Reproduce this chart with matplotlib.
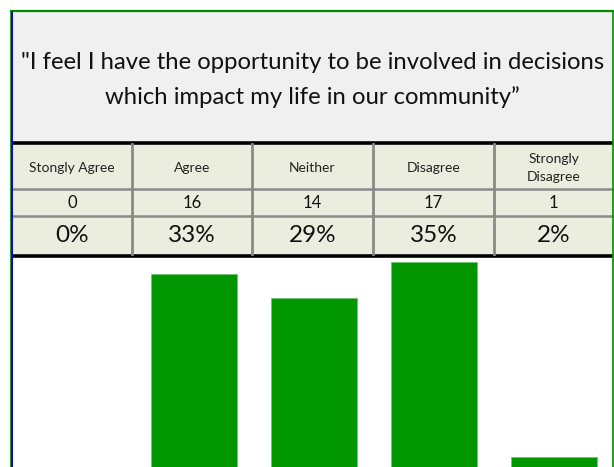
import matplotlib
matplotlib.use("Agg")
import matplotlib.pyplot as plt
from matplotlib.patches import Rectangle

# Survey responses
categories = ["Stongly Agree", "Agree", "Neither", "Disagree", "Strongly\nDisagree"]
counts = [0, 16, 14, 17, 1]
total = sum(counts)
percents = [c / total * 100 for c in counts]
title = '"I feel I have the opportunity to be involved in decisions\nwhich impact my life in our community\u201d'

FONT = ["Lato", "DejaVu Sans"]
W, H = 614, 467
fig = plt.figure(figsize=(W / 100, H / 100), dpi=100)

# Background canvas in pixel coordinates
bg = fig.add_axes([0, 0, 1, 1])
bg.set_xlim(0, W)
bg.set_ylim(H, 0)
bg.axis("off")

left, right = 12, 613
col_edges = [12, 132, 252, 373, 494, 613]

# title panel
bg.add_patch(Rectangle((left, 11), right - left, 131, facecolor="#f0f0f0", edgecolor="none"))
bg.text((left + right) / 2, 80, title, ha="center", va="center", fontsize=17.2,
        family=FONT, color="#111111", linespacing=1.75)

# table panel
bg.add_patch(Rectangle((left, 144), right - left, 110, facecolor="#ebeedf", edgecolor="none"))
bg.plot([left, right], [142.5, 142.5], color="black", lw=2.6, solid_capstyle="butt")
bg.plot([left, right], [255.5, 255.5], color="black", lw=2.6, solid_capstyle="butt")
for y in (189, 216):
    bg.plot([left, right], [y, y], color="#8a8a8a", lw=1.8)
for x in col_edges[1:-1]:
    bg.plot([x, x], [144, 254], color="#8a8a8a", lw=2.0)

for i, cat in enumerate(categories):
    cx = (col_edges[i] + col_edges[i + 1]) / 2
    bg.text(cx, 168, cat, ha="center", va="center", fontsize=10, family=FONT,
            color="#222222", linespacing=1.65)
    bg.text(cx, 203, f"{counts[i]}", ha="center", va="center", fontsize=12,
            family=FONT, color="#111111")
    bg.text(cx, 236, f"{percents[i]:.0f}%", ha="center", va="center", fontsize=17.5,
            family=FONT, color="#111111")

# outer frame
bg.plot([10, 614], [10.5, 10.5], color="#008a00", lw=1.6, solid_capstyle="butt")
bg.plot([10.5, 10.5], [10, H], color="#008a00", lw=1.2, solid_capstyle="butt")
bg.plot([11.7, 11.7], [11, H], color="#0000dd", lw=1.4, solid_capstyle="butt")
bg.plot([613, 613], [10, H], color="#008a00", lw=1.2, solid_capstyle="butt")

# bar chart area
px_per_count = 12.2
base_y = 469
top_y = 257
ax = fig.add_axes([14 / W, (H - base_y) / H, 600 / W, (base_y - top_y) / H])
ax.patch.set_alpha(0)
ax.bar(range(len(counts)), counts, width=0.71, color="#009600",
       edgecolor="#6fc46f", linewidth=0.6)
ax.set_xlim(-0.5, len(counts) - 0.5)
ax.set_ylim(0, (base_y - top_y) / px_per_count)
ax.axis("off")

fig.savefig("out.png", dpi=100)
